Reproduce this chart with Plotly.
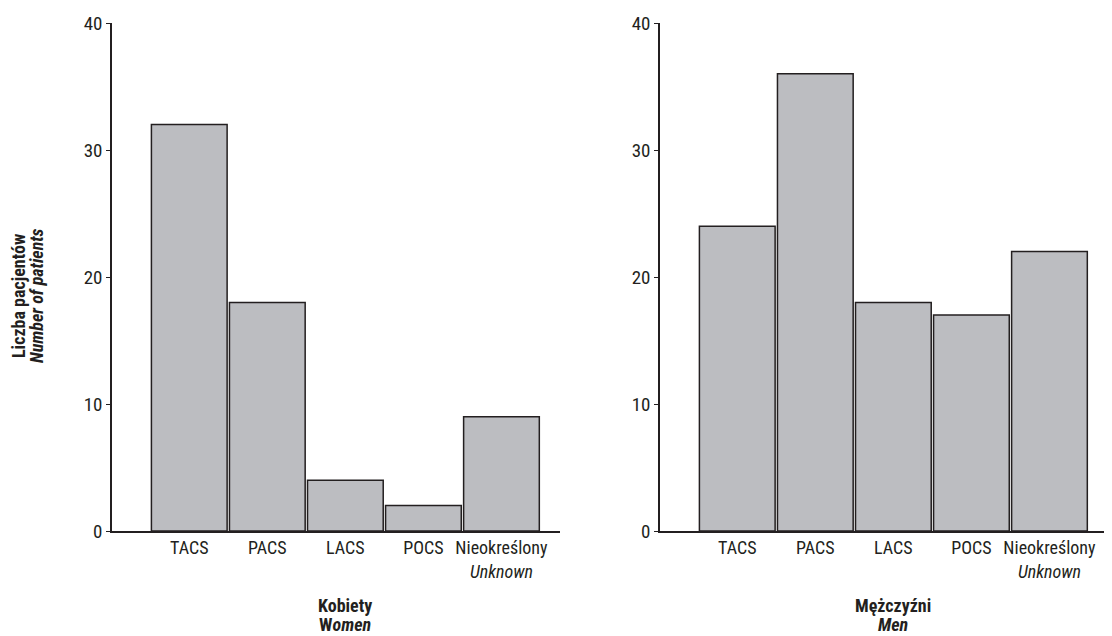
import plotly.graph_objects as go
from plotly.subplots import make_subplots

categories = ["TACS", "PACS", "LACS", "POCS", "Nieokreślony<br><i>Unknown</i>"]
women = [32, 18, 4, 2, 9]
men = [24, 36, 18, 17, 22]
y_ticks = [0, 10, 20, 30, 40]

FONT = "Liberation Sans Narrow, Roboto Condensed, Arial Narrow, Liberation Sans, sans-serif"
DARK = "#231f20"
FILL = "#bcbdc1"

fig = make_subplots(rows=1, cols=2, horizontal_spacing=0.09)
for i, vals in enumerate([women, men]):
    fig.add_trace(go.Bar(x=list(range(len(categories))), y=vals,
                         marker=dict(color=FILL, line=dict(color=DARK, width=1.5)),
                         showlegend=False), row=1, col=i + 1)

W, H = 1104, 628
T, B = 15, 523
dom_left = [104 / W, 552 / W]
dom_right = [652 / W, 1100 / W]

def py(pix):
    return (B - pix) / (B - T)

axis_common = dict(showline=True, linecolor=DARK, linewidth=1.5, showgrid=False, zeroline=False)
for ax, dom in [("xaxis", dom_left), ("xaxis2", dom_right)]:
    fig.layout[ax].update(domain=dom, range=[-0.99, 4.75], tickmode="array",
                          tickvals=list(range(len(categories))), ticktext=categories,
                          ticks="", tickfont=dict(family=FONT, size=18, color=DARK), **axis_common)
for ay in ["yaxis", "yaxis2"]:
    fig.layout[ay].update(range=[0, 40], tickmode="array", tickvals=y_ticks,
                          ticks="outside", ticklen=4, tickcolor=DARK, tickwidth=1.2,
                          tickfont=dict(family=FONT, size=19, color=DARK), **axis_common)

ann = dict(showarrow=False, xanchor="center", yanchor="middle")
fig.add_annotation(text="<b>Liczba pacjentów</b>", xref="paper", yref="paper",
                   x=11 / W, y=py(288), textangle=-90, font=dict(family=FONT, size=18, color=DARK), **ann)
fig.add_annotation(text="<b><i>Number of patients</i></b>", xref="paper", yref="paper",
                   x=29 / W, y=py(288), textangle=-90, font=dict(family=FONT, size=18, color=DARK), **ann)

for xr, l1, l2 in [("x", "<b>Kobiety</b>", "<b>W<i>omen</i></b>"),
                   ("x2", "<b>Mężczyźni</b>", "<b><i>Men</i></b>")]:
    fig.add_annotation(text=l1, xref=xr, yref="paper", x=2, y=py(597),
                       font=dict(family=FONT, size=18, color=DARK), **ann)
    fig.add_annotation(text=l2, xref=xr, yref="paper", x=2, y=py(616),
                       font=dict(family=FONT, size=18, color=DARK), **ann)

fig.update_layout(width=W, height=H, margin=dict(l=0, r=0, t=T, b=H - B),
                  bargap=0.03, plot_bgcolor="white", paper_bgcolor="white",
                  font=dict(family=FONT, color=DARK))
fig.write_html("out.html")
